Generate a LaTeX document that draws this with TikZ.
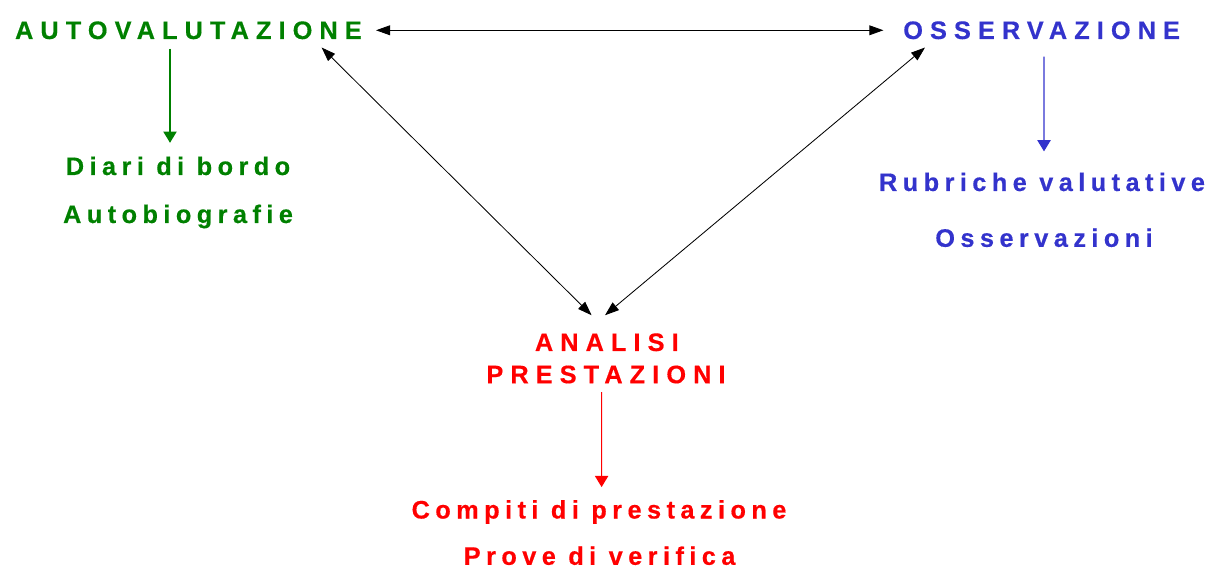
\documentclass[tikz,border=0pt]{standalone}
\usepackage{fontspec}
\setmainfont{Liberation Sans}
\usetikzlibrary{arrows.meta}
\definecolor{verde}{RGB}{0,128,0}
\definecolor{blu}{RGB}{51,51,204}
\definecolor{rosso}{RGB}{255,0,0}
\tikzset{
	titolo/.style={font=\fontsize{18}{21}\selectfont\bfseries\addfontfeatures{LetterSpace=28,FakeBold=0.4}, anchor=base, inner sep=0pt},
	voce/.style={font=\fontsize{18}{21}\selectfont\bfseries\addfontfeatures{LetterSpace=21.5,FakeBold=0.4}, anchor=base, inner sep=0pt},
	freccia/.style={-{Triangle[length=8pt,width=9.5pt]}, line width=0.8pt},
	doppia/.style={{Triangle[length=10pt,width=7pt]}-{Triangle[length=10pt,width=7pt]}, draw=black, line width=0.6pt}
}
\begin{document}
\begin{tikzpicture}
						\useasboundingbox (0,0) rectangle (30.2,14.2);
						\begin{scope}[every node/.style={titolo}]
							\node[text=verde] (autoval) at (4.71,13.225) {AUTOVALUTAZIONE};
							\node[text=blu] (osserv) at (26.04,13.225) {OSSERVAZIONE};
							\node[text=rosso] (analisi) at (15.17,5.425) {ANALISI};
							\node[text=rosso] (prestaz) at (15.15,4.62) {PRESTAZIONI};
						\end{scope}
						\begin{scope}[every node/.style={voce}]
							\node[text=verde] (diari) at (4.45,9.825) {Diari di bordo};
							\node[text=verde] (autobio) at (4.45,8.625) {Autobiografie};
							\node[text=blu] (rubriche) at (26.05,9.425) {Rubriche valutative};
							\node[text=blu] (osservaz) at (26.1,8.03) {Osservazioni};
							\node[text=rosso] (compiti) at (14.975,1.2375) {Compiti di prestazione};
							\node[text=rosso] (prove) at (14.99,0.08) {Prove di verifica};
						\end{scope}
						\draw[freccia, verde] ([xshift=-0.46cm,yshift=-0.225cm]autoval.south) -- ([xshift=-0.2cm,yshift=0.34cm]diari.north);
						\draw[freccia, blu] ([xshift=0.06cm,yshift=-0.425cm]osserv.south) -- ([xshift=0.05cm,yshift=0.525cm]rubriche.north);
						\draw[freccia, rosso] ([xshift=-0.11cm,yshift=-0.21cm]prestaz.south) -- ([xshift=0.065cm,yshift=0.32cm]compiti.north);
						\draw[doppia] ([xshift=0.35cm]autoval.east) -- ([xshift=-0.49cm]osserv.west);
						\draw[doppia] ([xshift=3.33cm,yshift=-0.2cm]autoval.south) -- ([xshift=-0.38cm,yshift=0.445cm]analisi.north);
						\draw[doppia] ([xshift=-2.915cm,yshift=-0.2cm]osserv.south) -- ([xshift=-0.045cm,yshift=0.445cm]analisi.north);
					\end{tikzpicture}
\end{document}
